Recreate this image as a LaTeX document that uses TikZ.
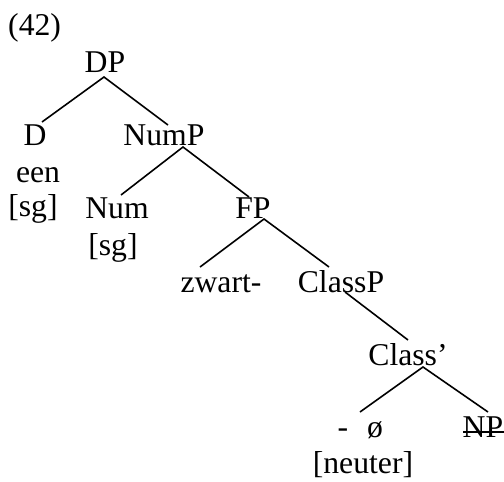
\documentclass[tikz,border=0pt]{standalone}
\usepackage{fontspec}
\setmainfont{Liberation Serif}
\begin{document}
\begin{tikzpicture}[x=1pt,y=-1pt,
  lab/.style={anchor=base,inner sep=0pt,font=\fontsize{31.7}{38}\selectfont},
  edge/.style={line width=1.6pt}]
\useasboundingbox (0,0) rectangle (504,482);
\node[lab,anchor=base west] (ex) at (8,35) {(42)};
\node[lab] (DP) at (105,72) {DP};
\node[lab] (D) at (35,145) {D};
\node[lab] (een) at (38,182) {een};
\node[lab] (sgD) at (33,216) {[sg]};
\node[lab] (NumP) at (164,145) {NumP};
\node[lab] (Num) at (117,218) {Num};
\node[lab] (sgNum) at (113,255) {[sg]};
\node[lab] (FP) at (253,218) {FP};
\node[lab] (zwart) at (221,292) {zwart-};
\node[lab] (ClassP) at (341,292) {ClassP};
\node[lab] (Classbar) at (408,365) {Class’};
\node[lab] (dash) at (343,437) {-};
\node[lab] (oslash) at (375,437) {ø};
\node[lab] (NP) at (483,437) {NP};
\node[lab] (neuter) at (363,473) {[neuter]};
% edges
\draw[edge] ([shift={(7pt,23pt)}]D.base) -- ([shift={(-1pt,-5pt)}]DP.base) -- ([shift={(4pt,20pt)}]NumP.base);
\draw[edge] ([shift={(4pt,23pt)}]Num.base) -- ([shift={(19pt,-2pt)}]NumP.base) -- ([shift={(-4pt,21pt)}]FP.base);
\draw[edge] ([shift={(-21pt,25pt)}]zwart.base) -- ([shift={(11pt,-1pt)}]FP.base) -- ([shift={(-12pt,25pt)}]ClassP.base);
\draw[edge] ([shift={(4pt,0pt)}]ClassP.base) -- ([shift={(0pt,25pt)}]Classbar.base);
\draw[edge] ([shift={(-15pt,25pt)}]oslash.base) -- ([shift={(15pt,-2pt)}]Classbar.base) -- ([shift={(5pt,25pt)}]NP.base);
\draw[edge] ([shift={(-20pt,5pt)}]NP.base) -- ([shift={(21pt,5pt)}]NP.base);
\end{tikzpicture}
\end{document}
